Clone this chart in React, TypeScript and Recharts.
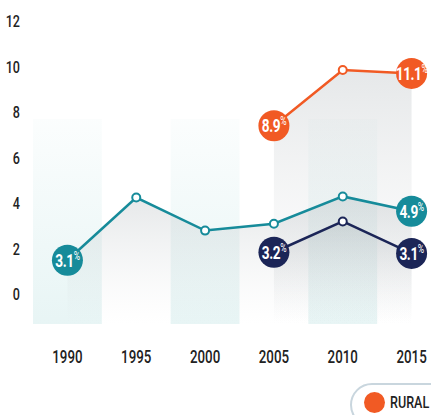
import { ComposedChart, Line, Area, XAxis, YAxis, ReferenceArea } from "recharts";

const years = [1990, 1995, 2000, 2005, 2010, 2015];
const total = [1.5, 4.25, 2.8, 3.1, 4.3, 3.65];
const urban = [null, null, null, 1.85, 3.2, 1.8];
const rural = [null, null, null, 7.4, 9.85, 9.7];
const totalLabels = ["3.1", null, null, null, null, "4.9"];
const urbanLabels = [null, null, null, "3.2", null, "3.1"];
const ruralLabels = [null, null, null, "8.9", null, "11.1"];
const yTicks = [0, 2, 4, 6, 8, 10, 12];
const bandYears = [1990, 2000, 2010];

const TEAL = "#168b9a";
const NAVY = "#1b2557";
const ORANGE = "#f15a24";
const FONT = "Roboto, 'Noto Sans', sans-serif";
const SQUEEZE = 0.74;

const data = years.map((y, i) => ({
  year: y,
  total: total[i],
  urban: urban[i],
  rural: rural[i],
}));

function XTick(props: any) {
  const { x, y, payload } = props;
  return (
    <g transform={`translate(${x},${y}) scale(${SQUEEZE},1)`}>
      <text x={0} y={15} textAnchor="middle" fill="#222" fontFamily={FONT} fontWeight={500} fontSize={18}>
        {payload.value}
      </text>
    </g>
  );
}

function YTick(props: any) {
  const { x, y, payload } = props;
  return (
    <g transform={`translate(${x},${y}) scale(${SQUEEZE},1)`}>
      <text x={0} y={6} textAnchor="end" fill="#222" fontFamily={FONT} fontWeight={500} fontSize={17}>
        {payload.value}
      </text>
    </g>
  );
}

function makeDot(color: string, labels: (string | null)[]) {
  return (props: any) => {
    const { cx, cy, index } = props;
    if (cx == null || cy == null || props.value == null) return <g key={index} />;
    const label = labels[index];
    if (label) {
      return (
        <g key={index}>
          <circle cx={cx} cy={cy} r={15.5} fill={color} />
          <g transform={`translate(${cx},${cy}) scale(0.72,1)`}>
            <text x={0} y={6.5} textAnchor="middle" fill="#fff" fontFamily={FONT} fontWeight="bold" fontSize={19} letterSpacing={-0.6}>
              {label}
              <tspan dy={-7} fontSize={12} fontWeight="normal">%</tspan>
            </text>
          </g>
        </g>
      );
    }
    return <circle key={index} cx={cx} cy={cy} r={4} fill="#fff" stroke={color} strokeWidth={2} />;
  };
}

export default function App() {
  return (
    <div style={{ position: "absolute", left: 0, top: 0, width: 431, height: 415, overflow: "hidden", background: "#fff" }}>
      <ComposedChart width={446} height={415} data={data} margin={{ top: 21, right: 0, bottom: 31, left: 0 }}>
        <defs>
          <linearGradient id="band" x1="0" y1="0" x2="0" y2="1">
            <stop offset="0%" stopColor="#d8eeee" stopOpacity={0.1} />
            <stop offset="100%" stopColor="#d8eeee" stopOpacity={0.6} />
          </linearGradient>
          <linearGradient id="shade" x1="0" y1="0" x2="0" y2="1">
            <stop offset="0%" stopColor="#9aa3a8" stopOpacity={0.42} />
            <stop offset="100%" stopColor="#c8cccf" stopOpacity={0} />
          </linearGradient>
        </defs>
        <XAxis
          dataKey="year"
          type="number"
          domain={[1987.5, 2017.5]}
          ticks={years}
          axisLine={false}
          tickLine={false}
          tickSize={0}
          tickMargin={24}
          height={60}
          tick={<XTick />}
        />
        <YAxis
          type="number"
          domain={[-1.3, 12]}
          ticks={yTicks}
          width={33}
          axisLine={false}
          tickLine={false}
          tickSize={0}
          tickMargin={13}
          tick={<YTick />}
        />
        {bandYears.map((y) => (
          <ReferenceArea key={y} x1={y - 2.5} x2={y + 2.5} y1={-1.3} y2={7.7} fill="url(#band)" fillOpacity={1} stroke="none" />
        ))}
        <Area dataKey="rural" type="linear" stroke="none" fill="url(#shade)" baseValue={-1.3} isAnimationActive={false} />
        <Area dataKey="total" type="linear" stroke="none" fill="url(#shade)" baseValue={-1.3} isAnimationActive={false} />
        <Area dataKey="urban" type="linear" stroke="none" fill="url(#shade)" baseValue={-1.3} isAnimationActive={false} />
        <Line dataKey="total" type="linear" stroke={TEAL} strokeWidth={2.5} dot={makeDot(TEAL, totalLabels)} activeDot={false} isAnimationActive={false} />
        <Line dataKey="urban" type="linear" stroke={NAVY} strokeWidth={2.5} dot={makeDot(NAVY, urbanLabels)} activeDot={false} isAnimationActive={false} />
        <Line dataKey="rural" type="linear" stroke={ORANGE} strokeWidth={2.5} dot={makeDot(ORANGE, ruralLabels)} activeDot={false} isAnimationActive={false} />
      </ComposedChart>
      <div
        style={{
          position: "absolute",
          left: 350,
          top: 383,
          width: 120,
          height: 44,
          border: "2px solid #c9d6de",
          borderRadius: 22,
          boxSizing: "border-box",
        }}
      >
        <div style={{ position: "absolute", left: 12, top: 7, width: 21, height: 21, borderRadius: 11, background: ORANGE }} />
        <div
          style={{
            position: "absolute",
            left: 38,
            top: 6,
            fontFamily: FONT,
            fontSize: 17,
            fontWeight: 500,
            color: "#222",
            lineHeight: "22px",
            transform: `scale(${SQUEEZE},1)`,
            transformOrigin: "left center",
          }}
        >
          RURAL
        </div>
      </div>
    </div>
  );
}
